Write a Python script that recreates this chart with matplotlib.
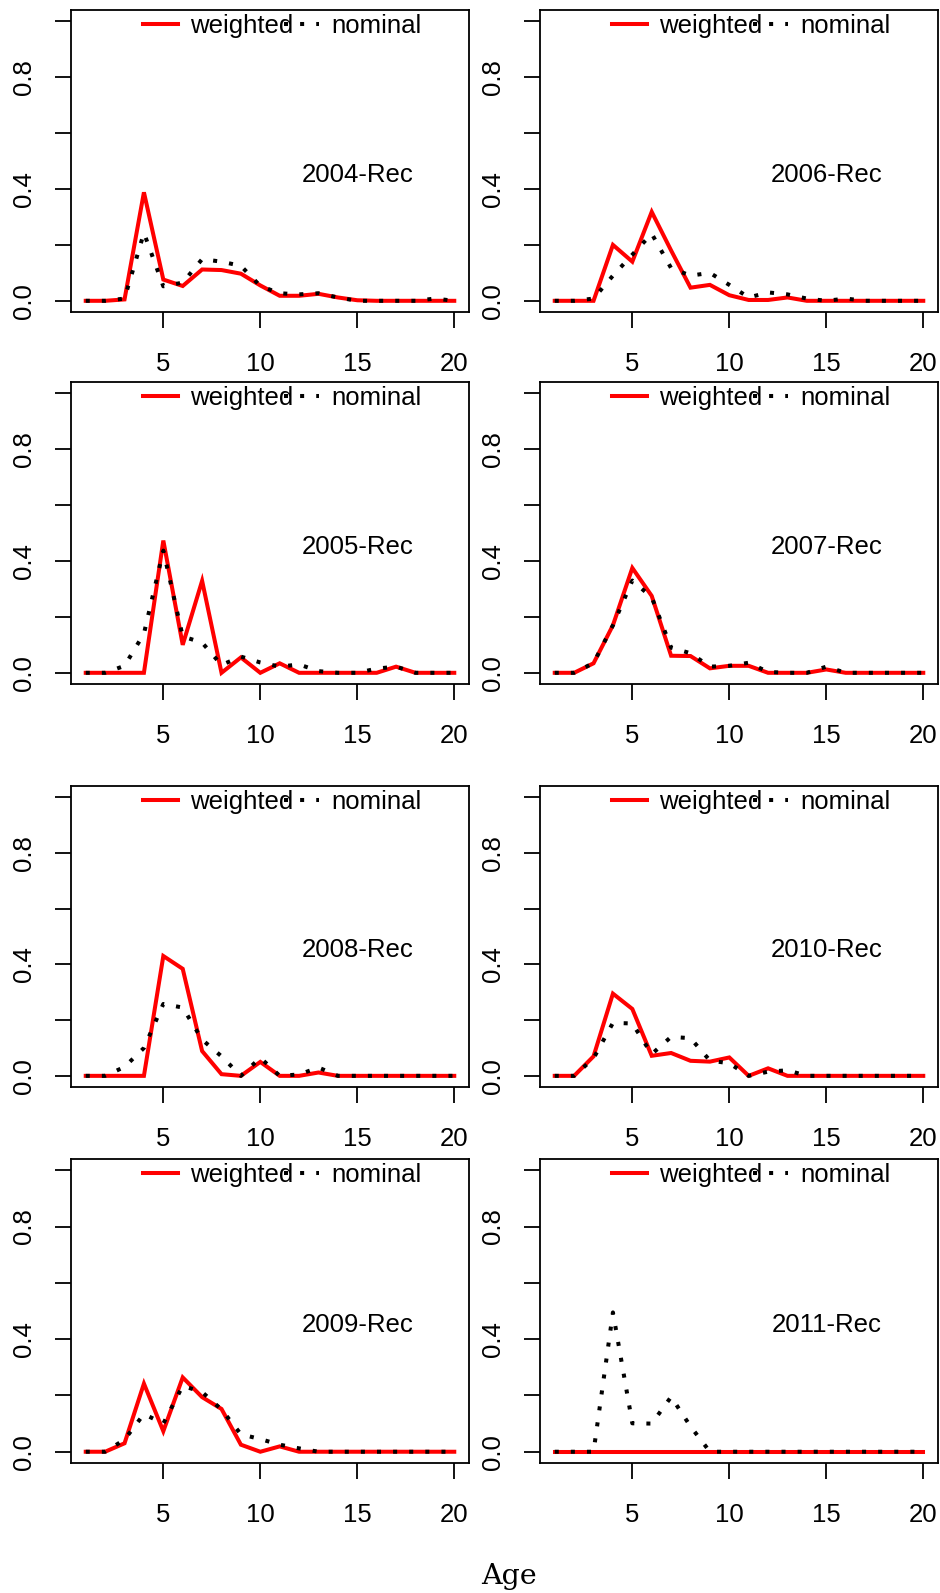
import matplotlib
matplotlib.use('Agg')
import matplotlib.pyplot as plt
from matplotlib.lines import Line2D

ages = list(range(1, 21))

# weighted (red) and nominal (black dotted) proportions by age
w2004 = [0, 0, 0.005, 0.388, 0.076, 0.053, 0.112, 0.110, 0.097, 0.055, 0.018, 0.018, 0.025, 0.012, 0.002, 0, 0, 0, 0, 0]
n2004 = [0, 0, 0.008, 0.243, 0.052, 0.065, 0.149, 0.140, 0.125, 0.053, 0.027, 0.023, 0.027, 0.012, 0, 0, 0, 0, 0.008, 0]

w2005 = [0, 0, 0, 0, 0.473, 0.100, 0.329, 0, 0.055, 0, 0.034, 0, 0, 0, 0, 0, 0.022, 0, 0, 0]
n2005 = [0, 0, 0.025, 0.140, 0.437, 0.130, 0.108, 0.028, 0.058, 0.037, 0.022, 0.030, 0.006, 0, 0, 0.015, 0.022, 0, 0, 0]

w2008 = [0, 0, 0, 0, 0.430, 0.384, 0.089, 0.006, 0, 0.050, 0, 0, 0.012, 0, 0, 0, 0, 0, 0, 0]
n2008 = [0, 0, 0.032, 0.100, 0.258, 0.245, 0.130, 0.070, 0, 0.065, 0, 0.005, 0.030, 0, 0, 0, 0, 0, 0, 0]

w2009 = [0, 0, 0.030, 0.242, 0.073, 0.264, 0.194, 0.152, 0.025, 0, 0.019, 0, 0, 0, 0, 0, 0, 0, 0, 0]
n2009 = [0, 0, 0.043, 0.134, 0.100, 0.234, 0.212, 0.150, 0.062, 0.045, 0.025, 0.012, 0, 0, 0, 0, 0, 0, 0, 0]

w2006 = [0, 0, 0, 0.200, 0.140, 0.318, 0.180, 0.047, 0.057, 0.020, 0.003, 0.003, 0.012, 0, 0, 0, 0, 0, 0, 0]
n2006 = [0, 0, 0.008, 0.090, 0.165, 0.240, 0.117, 0.090, 0.100, 0.057, 0.012, 0.030, 0.023, 0.008, 0, 0.008, 0, 0, 0, 0]

w2007 = [0, 0, 0.034, 0.170, 0.375, 0.275, 0.061, 0.060, 0.016, 0.025, 0.025, 0, 0, 0, 0.012, 0, 0, 0, 0, 0]
n2007 = [0, 0, 0.035, 0.170, 0.330, 0.270, 0.090, 0.070, 0.022, 0.025, 0.036, 0.003, 0, 0, 0.022, 0, 0, 0, 0, 0]

w2010 = [0, 0, 0.070, 0.295, 0.240, 0.072, 0.082, 0.054, 0.051, 0.066, 0, 0.027, 0, 0, 0, 0, 0, 0, 0, 0]
n2010 = [0, 0, 0.063, 0.190, 0.188, 0.078, 0.140, 0.135, 0.055, 0.045, 0, 0.015, 0.020, 0, 0, 0, 0, 0, 0, 0]

w2011 = [0] * 20
n2011 = [0, 0, 0, 0.495, 0.101, 0.100, 0.195, 0.090, 0, 0, 0, 0, 0, 0, 0, 0, 0, 0, 0, 0]

panel_labels = ['2004-Rec', '2006-Rec', '2005-Rec', '2007-Rec',
                '2008-Rec', '2010-Rec', '2009-Rec', '2011-Rec']
panel_w = [w2004, w2006, w2005, w2007, w2008, w2010, w2009, w2011]
panel_n = [n2004, n2006, n2005, n2007, n2008, n2010, n2009, n2011]

yticks = [0, 0.2, 0.4, 0.6, 0.8, 1.0]
ytick_labels = ['0.0', '', '0.4', '', '0.8', '']
xticks = [5, 10, 15, 20]
xtick_labels = ['5', '10', '15', '20']

plt.rcParams['font.family'] = ['Liberation Sans', 'DejaVu Sans']

W, H = 940, 1593
fig = plt.figure(figsize=(W / 100, H / 100), dpi=100)

col_left = [71, 540]
col_width = 398
rows = [(10, 312), (382, 684), (786, 1087), (1159, 1463)]

for i in range(8):
    r, c = divmod(i, 2)
    top, bot = rows[r]
    ax = fig.add_axes([col_left[c] / W, 1 - bot / H, col_width / W, (bot - top) / H])
    ax.plot(ages, panel_w[i], color='red', lw=2.9, solid_joinstyle='miter')
    ax.plot(ages, panel_n[i], color='black', lw=2.9, linestyle=(0, (1, 3)))
    ax.set_xlim(0.24, 20.76)
    ax.set_ylim(-0.04, 1.04)
    ax.set_xticks(xticks)
    ax.set_xticklabels(xtick_labels)
    ax.set_yticks(yticks)
    ax.set_yticklabels(ytick_labels)
    for s in ax.spines.values():
        s.set_linewidth(1.3)
    ax.tick_params(axis='both', length=11.5, width=1.3, labelsize=18.5, colors='black')
    ax.tick_params(axis='x', pad=17)
    ax.tick_params(axis='y', pad=13.5)
    plt.setp(ax.get_yticklabels(), rotation=90, va='center')
    ax.text(15, 0.45, panel_labels[i], ha='center', va='center', fontsize=18.5)
    handles = [Line2D([], [], color='red', lw=2.9),
               Line2D([], [], color='black', lw=2.9, linestyle=(0, (1, 3)))]
    ax.legend(handles, ['weighted', 'nominal'], loc='upper left',
              bbox_to_anchor=(0.181, 0.986), ncol=2, frameon=False,
              handlelength=1.36, handletextpad=0.48, columnspacing=-0.38,
              borderpad=0, borderaxespad=0, fontsize=18.5)

fig.text(509 / W, 1 - 1577 / H, 'Age', ha='center', va='center',
         family='DejaVu Serif', fontsize=20.5)

fig.savefig('out.png', dpi=100)
